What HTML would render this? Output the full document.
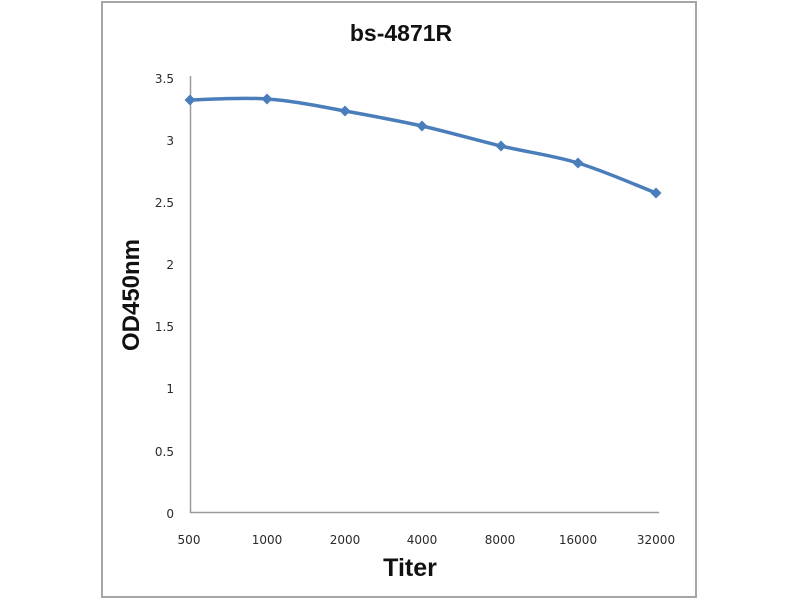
<!DOCTYPE html>
<html>
<head>
<meta charset="utf-8">
<style>
html,body{margin:0;padding:0;background:#fff;}
svg{display:block;}
</style>
</head>
<body>
<svg width="800" height="600" viewBox="0 0 800 600" xmlns="http://www.w3.org/2000/svg">
<rect x="0" y="0" width="800" height="600" fill="#fff"/>
<rect x="102" y="2" width="594" height="595" fill="#fff" stroke="#a6a6a6" stroke-width="2"/>
<text x="401" y="41" text-anchor="middle" font-family="Liberation Sans, sans-serif" font-weight="bold" font-size="23" fill="#111">bs-4871R</text>
<g font-family="DejaVu Sans, sans-serif" font-size="12" fill="#2a2a2a" text-anchor="end">
<text x="174" y="83">3.5</text>
<text x="174" y="145">3</text>
<text x="174" y="207">2.5</text>
<text x="174" y="269">2</text>
<text x="174" y="331">1.5</text>
<text x="174" y="393">1</text>
<text x="174" y="456">0.5</text>
<text x="174" y="518">0</text>
</g>
<g font-family="DejaVu Sans, sans-serif" font-size="12" fill="#2a2a2a" text-anchor="middle">
<text x="189" y="544">500</text>
<text x="267" y="544">1000</text>
<text x="345" y="544">2000</text>
<text x="422" y="544">4000</text>
<text x="500" y="544">8000</text>
<text x="578" y="544">16000</text>
<text x="656" y="544">32000</text>
</g>
<text x="410" y="576" text-anchor="middle" font-family="Liberation Sans, sans-serif" font-weight="bold" font-size="25" fill="#111">Titer</text>
<text transform="translate(139,295) rotate(-90)" text-anchor="middle" font-family="Liberation Sans, sans-serif" font-weight="bold" font-size="24" fill="#111">OD450nm</text>
<line x1="190.5" y1="76" x2="190.5" y2="513" stroke="#9a9a9a" stroke-width="1.5"/>
<line x1="190" y1="512.5" x2="659" y2="512.5" stroke="#9a9a9a" stroke-width="1.5"/>
<path d="M190,100 C202.8,99.7 241.2,97 267,99 C292.8,100.7 319.2,106.3 345,111 C370.8,115.7 396,120.2 422,126 C448,131.8 475,139.8 501,146 C527,152.2 552.2,155.2 578,163 C603.8,170.8 643,188 656,193" fill="none" stroke="#4a7ebb" stroke-width="3.5" stroke-linejoin="round" stroke-linecap="round"/>
<g fill="#4a7ebb">
<polygon points="190,94.5 195.5,100 190,105.5 184.5,100"/>
<polygon points="267,93.5 272.5,99 267,104.5 261.5,99"/>
<polygon points="345,105.5 350.5,111 345,116.5 339.5,111"/>
<polygon points="422,120.5 427.5,126 422,131.5 416.5,126"/>
<polygon points="501,140.5 506.5,146 501,151.5 495.5,146"/>
<polygon points="578,157.5 583.5,163 578,168.5 572.5,163"/>
<polygon points="656,187.5 661.5,193 656,198.5 650.5,193"/>
</g>
</svg>
</body>
</html>
